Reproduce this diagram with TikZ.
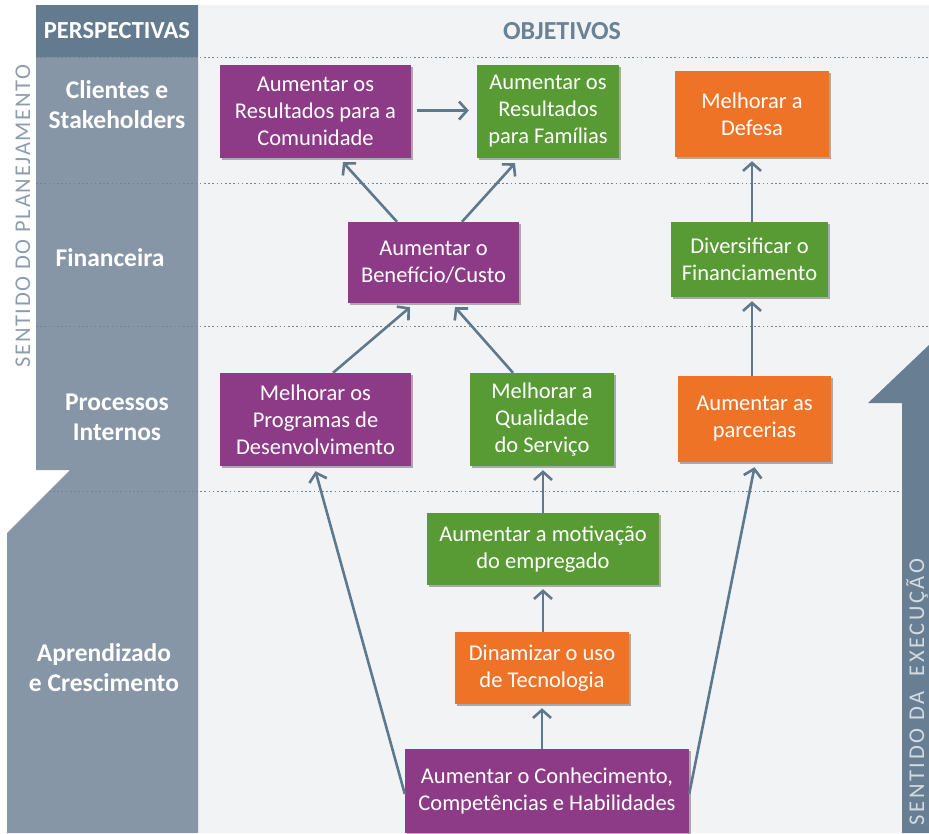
\documentclass[tikz,border=0pt]{standalone}
\usepackage{fontspec}
\setmainfont{Carlito}
\usetikzlibrary{arrows.meta,shadows,calc}

\definecolor{bggray}{HTML}{F2F3F5}
\definecolor{headdark}{HTML}{647B8F}
\definecolor{colgray}{HTML}{8696A6}
\definecolor{execarrow}{HTML}{687F93}
\definecolor{purp}{HTML}{8E3B87}
\definecolor{grn}{HTML}{589A33}
\definecolor{orng}{HTML}{EF7326}
\definecolor{arrowc}{HTML}{5E798E}
\definecolor{dotc}{HTML}{6F8497}
\definecolor{objtext}{HTML}{6A8296}
\definecolor{plantext}{HTML}{8D9DAE}
\definecolor{exectext}{HTML}{D3DAE2}

\begin{document}
\begin{tikzpicture}[x=1pt,y=-1pt,
  box/.style={inner sep=0pt, align=center, text=white,
    font=\fontsize{22.5}{27}\selectfont,
    drop shadow={shadow xshift=2pt, shadow yshift=-2pt, opacity=.3, fill=black}},
  rowlabel/.style={inner sep=0pt, align=center, text=white,
    font=\fontsize{25.5}{30}\selectfont\bfseries},
  arr/.style={draw=arrowc, line width=2.6pt,
    -{Straight Barb[length=8pt,width=18pt]}},
  rowline/.style={draw=dotc, line width=0.9pt, dash pattern=on 1.6pt off 2.6pt}
]
\useasboundingbox (0,0) rectangle (929,833);

% background panel of the objectives
\fill[bggray] (198,5) rectangle (929,833);

% perspectives column, widening downwards
\fill[colgray] (36,5) -- (198,5) -- (198,833) -- (7,833) -- (7,533)
  -- (70,470) -- (36,470) -- cycle;
\fill[headdark] (36,5) rectangle (198,57);

% execution arrow on the right
\fill[execarrow] (902,833) -- (902,403) -- (868,403) -- (929,345) -- (929,833) -- cycle;

% row separators
\draw[rowline] (36,57) -- (929,57);
\draw[rowline] (36,183) -- (929,183);
\draw[rowline] (36,326) -- (929,326);
\draw[rowline] (49,491) -- (902,491);

% headers
\node[inner sep=0pt, text=white, font=\fontsize{24.5}{28}\selectfont\bfseries] (hpersp) at (117,31) {PERSPECTIVAS};
\node[inner sep=0pt, text=objtext, font=\fontsize{26}{30}\selectfont\bfseries] (hobj) at (562,31) {OBJETIVOS};

% perspective labels
\node[rowlabel] (pclient) at (117,105) {Clientes e\\Stakeholders};
\node[rowlabel] (pfin) at (110,258) {Financeira};
\node[rowlabel] (pproc) at (117,417) {Processos\\Internos};
\node[rowlabel] (papr) at (104,668) {Aprendizado\\e Crescimento};

% direction captions
\node[rotate=90, inner sep=0pt, text=plantext,
  font=\fontsize{22.5}{26}\selectfont\addfontfeatures{LetterSpace=7.5}] (splan) at (23,216) {SENTIDO DO PLANEJAMENTO};
\node[rotate=90, inner sep=0pt, text=exectext,
  font=\fontsize{22.5}{26}\selectfont\addfontfeatures{LetterSpace=11.5}] (sexec) at (917,692) {SENTIDO DA\ \ EXECUÇÃO};

% objectives
\node[box, fill=purp, minimum width=191pt, minimum height=93pt] (k1) at (315.5,111.5) {Aumentar os\\Resultados para a\\Comunidade};
\node[box, fill=grn, minimum width=142pt, minimum height=93pt] (k2) at (548,111.5) {Aumentar os\\Resultados\\para Famílias};
\node[box, fill=orng, minimum width=154pt, minimum height=86pt] (k3) at (752,114) {Melhorar a\\Defesa};
\node[box, fill=purp, minimum width=171pt, minimum height=81pt] (k4) at (433.5,262.5) {Aumentar o\\Benefício/Custo};
\node[box, fill=grn, minimum width=157pt, minimum height=75pt] (k5) at (749.5,259.5) {Diversificar o\\Financiamento};
\node[box, fill=purp, minimum width=191pt, minimum height=93pt] (k6) at (315.5,419.5) {Melhorar os\\Programas de\\Desenvolvimento};
\node[box, fill=grn, minimum width=144pt, minimum height=93pt] (k7) at (542,419.5) {Melhorar a\\Qualidade\\do Serviço};
\node[box, fill=orng, minimum width=153pt, minimum height=86pt] (k8) at (754.5,419) {Aumentar as\\parcerias};
\node[box, fill=grn, minimum width=232pt, minimum height=72pt] (k9) at (543,549) {Aumentar a motivação\\do empregado};
\node[box, fill=orng, minimum width=174pt, minimum height=72pt] (k10) at (542,668) {Dinamizar o uso\\de Tecnologia};
\node[box, fill=purp, minimum width=284pt, minimum height=84pt] (k11) at (547,791) {Aumentar o Conhecimento,\\Competências e Habilidades};

% cause-and-effect links
\draw[arr] ($(k1.east)+(6,-1)$) -- ($(k1.east -| k2.west)+(-8,-1)$);
\draw[arr] ($(k4.north)+(-36.5,0)$) -- ($(k1.south)+(27.5,4)$);
\draw[arr] ($(k4.north)+(28.5,0)$) -- ($(k2.south)+(-33,5)$);
\draw[arr] ($(k6.north)+(17.5,0)$) -- ($(k4.south)+(-23.5,4)$);
\draw[arr] ($(k7.north)+(-29,0)$) -- ($(k4.south)+(21.5,4)$);
\draw[arr] (k5.north -| k3.south) -- ($(k3.south)+(0,4)$);
\draw[arr] (k8.north -| k3.south) -- ($(k5.south -| k3.south)+(0,4)$);
\draw[arr] (k9.north) -- ($(k9.north |- k7.south)+(0,4)$);
\draw[arr] (k10.north -| k9.north) -- ($(k9.south)+(0,4)$);
\draw[arr] (k11.north -| k10.south) -- ($(k10.south)+(0,4)$);
\draw[arr] ($(k11.west)+(0,3)$) -- ($(k6.south)+(0,5)$);
\draw[arr] ($(k11.east)+(0,3)$) -- ($(k8.south)+(0,5)$);
\end{tikzpicture}
\end{document}
